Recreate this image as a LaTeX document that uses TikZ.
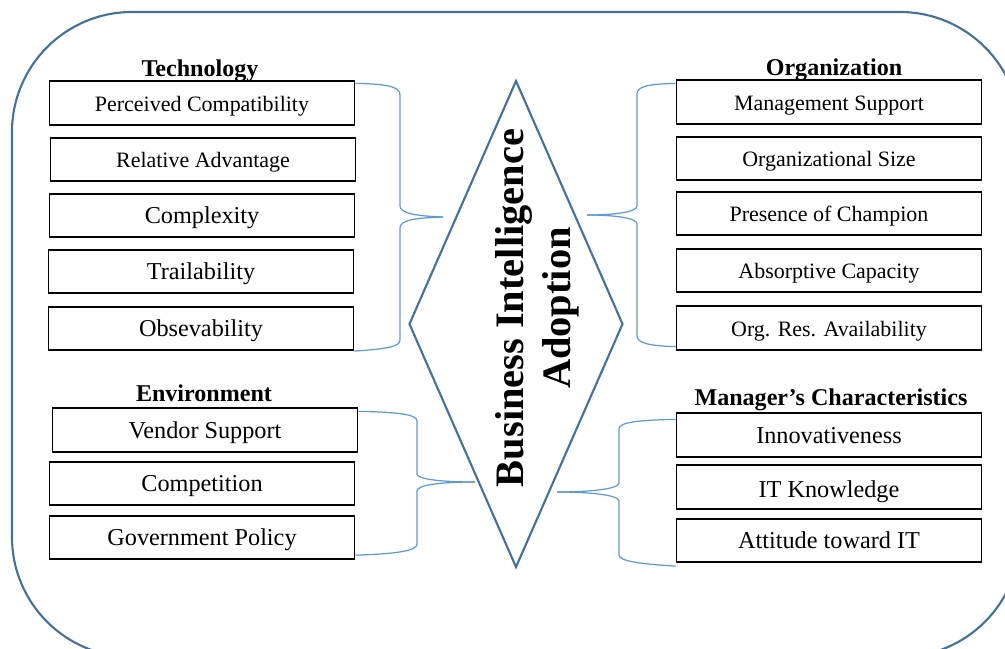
\documentclass[tikz,border=0pt]{standalone}
\usepackage{fontspec}
\setmainfont{Liberation Serif}
\usetikzlibrary{shapes.geometric}
\definecolor{frameblue}{HTML}{41719C}
\definecolor{braceblue}{HTML}{5B9BD5}

\begin{document}
\begin{tikzpicture}[x=0.02cm, y=-0.02cm,
    factor/.style={draw, line width=1pt, minimum width=6.1cm, minimum height=0.87cm, inner sep=0pt,
        text height=0.95em, text depth=0pt, font=\fontsize{12.5}{15}\selectfont},
    factorbig/.style={factor, font=\fontsize{13.8}{16}\selectfont},
    group/.style={anchor=base, font=\fontsize{13.7}{16}\selectfont\bfseries},
    brace/.style={draw=braceblue, line width=0.7pt}]
    \useasboundingbox (0,0) rectangle (1005,649);
    \clip (0,0) rectangle (1005,649);
    \draw[frameblue, line width=1.2pt, rounded corners=2.4cm] (12,12) rectangle (1020,657);

    % centre
    \node[diamond, draw=frameblue, line width=1.2pt, minimum width=4.28cm, minimum height=9.74cm, inner sep=0pt] (bia) at (516,324) {};
    \node[rotate=90, align=center, font=\fontsize{23}{27}\selectfont\bfseries] (biatext) at (537,308) {Business Intelligence\\Adoption};

    % technology
    \node[group] (tech) at (200,76) {Technology};
    \node[factor] (pc) at (202,103) {Perceived Compatibility};
    \node[factor] (ra) at (203,159.5) {Relative Advantage};
    \node[factorbig] (cx) at (202,215.5) {Complexity};
    \node[factorbig] (tr) at (201,271.5) {Trailability};
    \node[factorbig] (ob) at (201,328.5) {Obsevability};

    % organization
    \node[group] (org) at (834,75) {Organization};
    \node[factor] (ms) at (829,102) {Management Support};
    \node[factor] (os) at (829,158.5) {Organizational Size};
    \node[factor] (pch) at (829,213.5) {Presence of Champion};
    \node[factor] (ac) at (829,270.5) {Absorptive Capacity};
    \node[factor] (orr) at (829,328) {Org. Res. Availability};

    % environment
    \node[group] (env) at (204,401) {Environment};
    \node[factorbig] (vs) at (205,430) {Vendor Support};
    \node[factorbig] (co) at (202,483.5) {Competition};
    \node[factorbig] (gp) at (202,537.5) {Government Policy};

    % manager
    \node[group] (mgr) at (831,405) {Manager’s Characteristics};
    \node[factorbig] (inn) at (829,435) {Innovativeness};
    \node[factorbig, text height=1.15em] (itk) at (829,487) {IT Knowledge};
    \node[factorbig] (att) at (829,540.5) {Attitude toward IT};

    % braces
    \coordinate (tipLT) at (443,217);
    \coordinate (tipRT) at (587,215);
    \coordinate (tipLB) at (475,482);
    \coordinate (tipRB) at (557,492);
    \draw[brace] ([yshift=-0.06cm]pc.north east) .. controls (385,84) and (400,86) .. (400,95) -- (400,206)
        .. controls (400,213) and (415,216) .. (tipLT);
    \draw[brace] (tipLT) .. controls (415,218) and (400,220) .. (400,228) -- (400,340)
        .. controls (400,347) and (385,349) .. (ob.south east);
    \draw[brace] ([yshift=-0.08cm]ms.north west) .. controls (650,84) and (637,86) .. (637,94) -- (637,206)
        .. controls (637,212) and (615,215) .. (tipRT);
    \draw[brace] (tipRT) .. controls (615,215) and (637,218) .. (637,224) -- (637,336)
        .. controls (637,343) and (650,346) .. ([yshift=0.08cm]orr.south west);
    \draw[brace] ([yshift=-0.08cm]vs.north east) .. controls (395,412) and (417,414) .. (417,421) -- (417,474)
        .. controls (417,479) and (440,482) .. (tipLB);
    \draw[brace] (tipLB) .. controls (440,482) and (417,485) .. (417,491) -- (417,544)
        .. controls (417,551) and (395,554) .. ([yshift=0.1cm]gp.south east);
    \draw[brace] ([yshift=-0.14cm]inn.north west) .. controls (640,420) and (619,422) .. (619,429) -- (619,483)
        .. controls (619,489) and (590,492) .. (tipRB);
    \draw[brace] (tipRB) .. controls (590,492) and (619,495) .. (619,501) -- (619,555)
        .. controls (619,561) and (640,564) .. ([yshift=-0.06cm]att.south west);
\end{tikzpicture}
\end{document}
